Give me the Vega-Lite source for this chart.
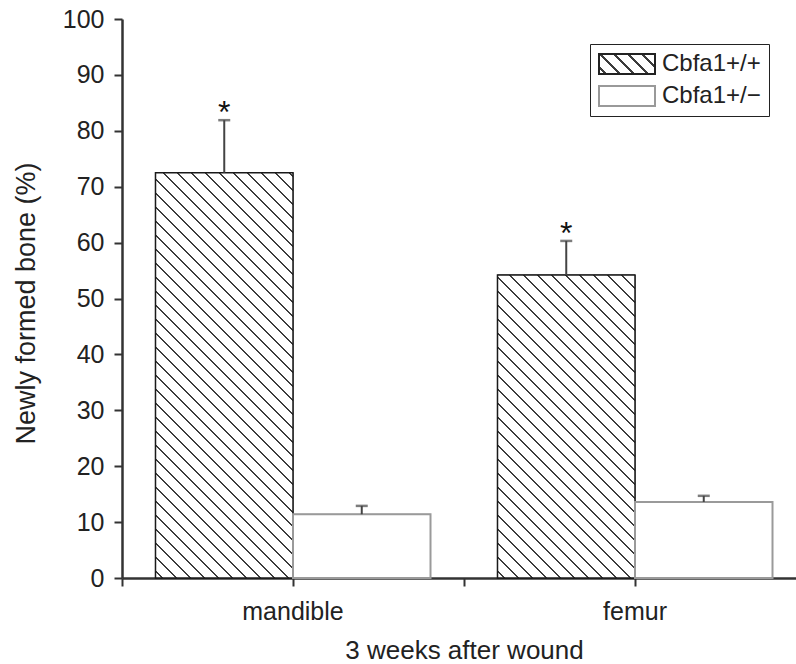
{
  "$schema": "https://vega.github.io/schema/vega-lite/v6.json",
  "autosize": {"type": "none"},
  "padding": {"left": 122, "top": 19, "right": 0, "bottom": 86},
  "width": 674,
  "height": 559,
  "config": {"view": {"stroke": null}, "font": "Liberation Sans"},
  "data": {"values": [
    {"site": "mandible", "genotype": "Cbfa1+/+", "value": 72.5, "upper": 81.9, "star": "*"},
    {"site": "mandible", "genotype": "Cbfa1+/−", "value": 11.4, "upper": 12.9, "star": ""},
    {"site": "femur", "genotype": "Cbfa1+/+", "value": 54.2, "upper": 60.3, "star": "*"},
    {"site": "femur", "genotype": "Cbfa1+/−", "value": 13.6, "upper": 14.7, "star": ""}
  ]},
  "resolve": {"axis": {"x": "independent"}},
  "layer": [
    {
      "mark": {"type": "bar"},
      "encoding": {
        "x": {"field": "site", "type": "nominal", "sort": ["mandible", "femur"],
          "scale": {"range": [0, 684], "paddingInner": 0, "paddingOuter": 0},
          "axis": {"orient": "bottom", "title": "3 weeks after wound", "titleFontSize": 26, "titleFontWeight": "normal", "titleColor": "#222", "titlePadding": 13,
            "labelFontSize": 25, "labelColor": "#222", "labelAngle": 0, "labelPadding": 13,
            "tickSize": 8, "tickWidth": 2, "tickColor": "#333", "domainColor": "#333", "domainWidth": 2.5}},
        "xOffset": {"field": "genotype", "type": "nominal", "sort": ["Cbfa1+/+", "Cbfa1+/−"], "scale": {"paddingInner": 0, "paddingOuter": 0.2436}},
        "y": {"field": "value", "type": "quantitative", "scale": {"domain": [0, 100], "nice": false},
          "axis": {"title": "Newly formed bone (%)", "titleFontSize": 27, "titleFontWeight": "normal", "titleColor": "#222", "titleX": -82, "titleY": 284,
            "values": [0,5,10,15,20,25,30,35,40,45,50,55,60,65,70,75,80,85,90,95,100],
            "labelExpr": "datum.value % 10 === 0 ? datum.label : ''",
            "labelFontSize": 25, "labelColor": "#222", "labelPadding": 10, "grid": false,
            "tickSize": 8, "tickWidth": 2, "tickColor": "#333", "domainColor": "#333", "domainWidth": 2.5}},
        "fill": {"field": "genotype", "type": "nominal", "sort": ["Cbfa1+/+", "Cbfa1+/−"], "scale": {"range": ["#ffffff", "#ffffff"]}, "legend": null},
        "stroke": {"field": "genotype", "type": "nominal", "sort": ["Cbfa1+/+", "Cbfa1+/−"], "scale": {"range": ["#222222", "#999999"]},
          "legend": {"title": null, "orient": "none", "legendX": 468, "legendY": 25,
            "strokeColor": "#222", "fillColor": "#fff", "padding": 8, "rowPadding": 8,
            "labelFontSize": 24, "labelColor": "#222", "labelOffset": 6, "clipHeight": 24,
            "symbolType": "M-1,-0.357L1,-0.357L1,0.357L-1,0.357Z", "symbolSize": 3136, "symbolStrokeWidth": 2,
            "symbolFillColor": {"expr": "datum.value === 'Cbfa1+/+' ? {gradient: 'linear', x1: 0, y1: 1, x2: 8.8688, y2: -2.1674, stops: [{offset: 0.010, color: '#fff'}, {offset: 0.010, color: '#3c3c3c'}, {offset: 0.015, color: '#3c3c3c'}, {offset: 0.015, color: '#fff'}, {offset: 0.035, color: '#fff'}, {offset: 0.035, color: '#3c3c3c'}, {offset: 0.040, color: '#3c3c3c'}, {offset: 0.040, color: '#fff'}, {offset: 0.060, color: '#fff'}, {offset: 0.060, color: '#3c3c3c'}, {offset: 0.065, color: '#3c3c3c'}, {offset: 0.065, color: '#fff'}, {offset: 0.085, color: '#fff'}, {offset: 0.085, color: '#3c3c3c'}, {offset: 0.090, color: '#3c3c3c'}, {offset: 0.090, color: '#fff'}, {offset: 0.110, color: '#fff'}, {offset: 0.110, color: '#3c3c3c'}, {offset: 0.115, color: '#3c3c3c'}, {offset: 0.115, color: '#fff'}, {offset: 0.135, color: '#fff'}, {offset: 0.135, color: '#3c3c3c'}, {offset: 0.140, color: '#3c3c3c'}, {offset: 0.140, color: '#fff'}]} : '#fff'"}
          }
        }
      }
    },
    {
      "mark": {"type": "bar"},
      "encoding": {
        "x": {"field": "site", "type": "nominal", "sort": ["mandible", "femur"],
          "axis": {"orient": "bottom", "tickBand": "extent", "labels": false, "domain": false, "title": null, "tickSize": 8, "tickWidth": 2, "tickColor": "#333", "grid": false}},
        "xOffset": {"field": "genotype", "type": "nominal", "sort": ["Cbfa1+/+", "Cbfa1+/−"]},
        "y": {"field": "value", "type": "quantitative"},
        "stroke": {"condition": {"test": "datum.genotype === 'Cbfa1+/+'", "value": "#1a1a1a"}, "value": "#9a9a9a"},
        "strokeWidth": {"condition": {"test": "datum.genotype === 'Cbfa1+/+'", "value": 1.5}, "value": 2},
        "fill": {"condition": [
          {"test": "datum.genotype === 'Cbfa1+/+' && datum.site === 'mandible'", "value": {"gradient": "linear", "x1": 0, "y1": 1, "x2": 0.42037, "y2": -0.23908, "stops": [
            {"offset":0.010,"color":"#fff"},{"offset":0.010,"color":"#3c3c3c"},{"offset":0.015,"color":"#3c3c3c"},{"offset":0.015,"color":"#fff"},
            {"offset":0.035,"color":"#fff"},{"offset":0.035,"color":"#3c3c3c"},{"offset":0.040,"color":"#3c3c3c"},{"offset":0.040,"color":"#fff"},
            {"offset":0.060,"color":"#fff"},{"offset":0.060,"color":"#3c3c3c"},{"offset":0.065,"color":"#3c3c3c"},{"offset":0.065,"color":"#fff"},
            {"offset":0.085,"color":"#fff"},{"offset":0.085,"color":"#3c3c3c"},{"offset":0.090,"color":"#3c3c3c"},{"offset":0.090,"color":"#fff"},
            {"offset":0.110,"color":"#fff"},{"offset":0.110,"color":"#3c3c3c"},{"offset":0.115,"color":"#3c3c3c"},{"offset":0.115,"color":"#fff"},
            {"offset":0.135,"color":"#fff"},{"offset":0.135,"color":"#3c3c3c"},{"offset":0.140,"color":"#3c3c3c"},{"offset":0.140,"color":"#fff"},
            {"offset":0.160,"color":"#fff"},{"offset":0.160,"color":"#3c3c3c"},{"offset":0.165,"color":"#3c3c3c"},{"offset":0.165,"color":"#fff"},
            {"offset":0.185,"color":"#fff"},{"offset":0.185,"color":"#3c3c3c"},{"offset":0.190,"color":"#3c3c3c"},{"offset":0.190,"color":"#fff"},
            {"offset":0.210,"color":"#fff"},{"offset":0.210,"color":"#3c3c3c"},{"offset":0.215,"color":"#3c3c3c"},{"offset":0.215,"color":"#fff"},
            {"offset":0.235,"color":"#fff"},{"offset":0.235,"color":"#3c3c3c"},{"offset":0.240,"color":"#3c3c3c"},{"offset":0.240,"color":"#fff"},
            {"offset":0.260,"color":"#fff"},{"offset":0.260,"color":"#3c3c3c"},{"offset":0.265,"color":"#3c3c3c"},{"offset":0.265,"color":"#fff"},
            {"offset":0.285,"color":"#fff"},{"offset":0.285,"color":"#3c3c3c"},{"offset":0.290,"color":"#3c3c3c"},{"offset":0.290,"color":"#fff"},
            {"offset":0.310,"color":"#fff"},{"offset":0.310,"color":"#3c3c3c"},{"offset":0.315,"color":"#3c3c3c"},{"offset":0.315,"color":"#fff"},
            {"offset":0.335,"color":"#fff"},{"offset":0.335,"color":"#3c3c3c"},{"offset":0.340,"color":"#3c3c3c"},{"offset":0.340,"color":"#fff"},
            {"offset":0.360,"color":"#fff"},{"offset":0.360,"color":"#3c3c3c"},{"offset":0.365,"color":"#3c3c3c"},{"offset":0.365,"color":"#fff"},
            {"offset":0.385,"color":"#fff"},{"offset":0.385,"color":"#3c3c3c"},{"offset":0.390,"color":"#3c3c3c"},{"offset":0.390,"color":"#fff"},
            {"offset":0.410,"color":"#fff"},{"offset":0.410,"color":"#3c3c3c"},{"offset":0.415,"color":"#3c3c3c"},{"offset":0.415,"color":"#fff"},
            {"offset":0.435,"color":"#fff"},{"offset":0.435,"color":"#3c3c3c"},{"offset":0.440,"color":"#3c3c3c"},{"offset":0.440,"color":"#fff"},
            {"offset":0.460,"color":"#fff"},{"offset":0.460,"color":"#3c3c3c"},{"offset":0.465,"color":"#3c3c3c"},{"offset":0.465,"color":"#fff"},
            {"offset":0.485,"color":"#fff"},{"offset":0.485,"color":"#3c3c3c"},{"offset":0.490,"color":"#3c3c3c"},{"offset":0.490,"color":"#fff"},
            {"offset":0.510,"color":"#fff"},{"offset":0.510,"color":"#3c3c3c"},{"offset":0.515,"color":"#3c3c3c"},{"offset":0.515,"color":"#fff"},
            {"offset":0.535,"color":"#fff"},{"offset":0.535,"color":"#3c3c3c"},{"offset":0.540,"color":"#3c3c3c"},{"offset":0.540,"color":"#fff"},
            {"offset":0.560,"color":"#fff"},{"offset":0.560,"color":"#3c3c3c"},{"offset":0.565,"color":"#3c3c3c"},{"offset":0.565,"color":"#fff"},
            {"offset":0.585,"color":"#fff"},{"offset":0.585,"color":"#3c3c3c"},{"offset":0.590,"color":"#3c3c3c"},{"offset":0.590,"color":"#fff"},
            {"offset":0.610,"color":"#fff"},{"offset":0.610,"color":"#3c3c3c"},{"offset":0.615,"color":"#3c3c3c"},{"offset":0.615,"color":"#fff"},
            {"offset":0.635,"color":"#fff"},{"offset":0.635,"color":"#3c3c3c"},{"offset":0.640,"color":"#3c3c3c"},{"offset":0.640,"color":"#fff"},
            {"offset":0.660,"color":"#fff"},{"offset":0.660,"color":"#3c3c3c"},{"offset":0.665,"color":"#3c3c3c"},{"offset":0.665,"color":"#fff"},
            {"offset":0.685,"color":"#fff"},{"offset":0.685,"color":"#3c3c3c"},{"offset":0.690,"color":"#3c3c3c"},{"offset":0.690,"color":"#fff"},
            {"offset":0.710,"color":"#fff"},{"offset":0.710,"color":"#3c3c3c"},{"offset":0.715,"color":"#3c3c3c"},{"offset":0.715,"color":"#fff"},
            {"offset":0.735,"color":"#fff"},{"offset":0.735,"color":"#3c3c3c"},{"offset":0.740,"color":"#3c3c3c"},{"offset":0.740,"color":"#fff"},
            {"offset":0.760,"color":"#fff"},{"offset":0.760,"color":"#3c3c3c"},{"offset":0.765,"color":"#3c3c3c"},{"offset":0.765,"color":"#fff"},
            {"offset":0.785,"color":"#fff"},{"offset":0.785,"color":"#3c3c3c"},{"offset":0.790,"color":"#3c3c3c"},{"offset":0.790,"color":"#fff"},
            {"offset":0.810,"color":"#fff"},{"offset":0.810,"color":"#3c3c3c"},{"offset":0.815,"color":"#3c3c3c"},{"offset":0.815,"color":"#fff"},
            {"offset":0.835,"color":"#fff"},{"offset":0.835,"color":"#3c3c3c"},{"offset":0.840,"color":"#3c3c3c"},{"offset":0.840,"color":"#fff"},
            {"offset":0.860,"color":"#fff"},{"offset":0.860,"color":"#3c3c3c"},{"offset":0.865,"color":"#3c3c3c"},{"offset":0.865,"color":"#fff"},
            {"offset":0.885,"color":"#fff"},{"offset":0.885,"color":"#3c3c3c"},{"offset":0.890,"color":"#3c3c3c"},{"offset":0.890,"color":"#fff"},
            {"offset":0.910,"color":"#fff"},{"offset":0.910,"color":"#3c3c3c"},{"offset":0.915,"color":"#3c3c3c"},{"offset":0.915,"color":"#fff"},
            {"offset":0.935,"color":"#fff"},{"offset":0.935,"color":"#3c3c3c"},{"offset":0.940,"color":"#3c3c3c"},{"offset":0.940,"color":"#fff"},
            {"offset":0.960,"color":"#fff"},{"offset":0.960,"color":"#3c3c3c"},{"offset":0.965,"color":"#3c3c3c"},{"offset":0.965,"color":"#fff"}
          ]}},
          {"test": "datum.genotype === 'Cbfa1+/+' && datum.site === 'femur'", "value": {"gradient": "linear", "x1": 0, "y1": 1, "x2": 0.69547, "y2": -0.53258, "stops": [
            {"offset":0.010,"color":"#fff"},{"offset":0.010,"color":"#3c3c3c"},{"offset":0.015,"color":"#3c3c3c"},{"offset":0.015,"color":"#fff"},
            {"offset":0.035,"color":"#fff"},{"offset":0.035,"color":"#3c3c3c"},{"offset":0.040,"color":"#3c3c3c"},{"offset":0.040,"color":"#fff"},
            {"offset":0.060,"color":"#fff"},{"offset":0.060,"color":"#3c3c3c"},{"offset":0.065,"color":"#3c3c3c"},{"offset":0.065,"color":"#fff"},
            {"offset":0.085,"color":"#fff"},{"offset":0.085,"color":"#3c3c3c"},{"offset":0.090,"color":"#3c3c3c"},{"offset":0.090,"color":"#fff"},
            {"offset":0.110,"color":"#fff"},{"offset":0.110,"color":"#3c3c3c"},{"offset":0.115,"color":"#3c3c3c"},{"offset":0.115,"color":"#fff"},
            {"offset":0.135,"color":"#fff"},{"offset":0.135,"color":"#3c3c3c"},{"offset":0.140,"color":"#3c3c3c"},{"offset":0.140,"color":"#fff"},
            {"offset":0.160,"color":"#fff"},{"offset":0.160,"color":"#3c3c3c"},{"offset":0.165,"color":"#3c3c3c"},{"offset":0.165,"color":"#fff"},
            {"offset":0.185,"color":"#fff"},{"offset":0.185,"color":"#3c3c3c"},{"offset":0.190,"color":"#3c3c3c"},{"offset":0.190,"color":"#fff"},
            {"offset":0.210,"color":"#fff"},{"offset":0.210,"color":"#3c3c3c"},{"offset":0.215,"color":"#3c3c3c"},{"offset":0.215,"color":"#fff"},
            {"offset":0.235,"color":"#fff"},{"offset":0.235,"color":"#3c3c3c"},{"offset":0.240,"color":"#3c3c3c"},{"offset":0.240,"color":"#fff"},
            {"offset":0.260,"color":"#fff"},{"offset":0.260,"color":"#3c3c3c"},{"offset":0.265,"color":"#3c3c3c"},{"offset":0.265,"color":"#fff"},
            {"offset":0.285,"color":"#fff"},{"offset":0.285,"color":"#3c3c3c"},{"offset":0.290,"color":"#3c3c3c"},{"offset":0.290,"color":"#fff"},
            {"offset":0.310,"color":"#fff"},{"offset":0.310,"color":"#3c3c3c"},{"offset":0.315,"color":"#3c3c3c"},{"offset":0.315,"color":"#fff"},
            {"offset":0.335,"color":"#fff"},{"offset":0.335,"color":"#3c3c3c"},{"offset":0.340,"color":"#3c3c3c"},{"offset":0.340,"color":"#fff"},
            {"offset":0.360,"color":"#fff"},{"offset":0.360,"color":"#3c3c3c"},{"offset":0.365,"color":"#3c3c3c"},{"offset":0.365,"color":"#fff"},
            {"offset":0.385,"color":"#fff"},{"offset":0.385,"color":"#3c3c3c"},{"offset":0.390,"color":"#3c3c3c"},{"offset":0.390,"color":"#fff"},
            {"offset":0.410,"color":"#fff"},{"offset":0.410,"color":"#3c3c3c"},{"offset":0.415,"color":"#3c3c3c"},{"offset":0.415,"color":"#fff"},
            {"offset":0.435,"color":"#fff"},{"offset":0.435,"color":"#3c3c3c"},{"offset":0.440,"color":"#3c3c3c"},{"offset":0.440,"color":"#fff"},
            {"offset":0.460,"color":"#fff"},{"offset":0.460,"color":"#3c3c3c"},{"offset":0.465,"color":"#3c3c3c"},{"offset":0.465,"color":"#fff"},
            {"offset":0.485,"color":"#fff"},{"offset":0.485,"color":"#3c3c3c"},{"offset":0.490,"color":"#3c3c3c"},{"offset":0.490,"color":"#fff"},
            {"offset":0.510,"color":"#fff"},{"offset":0.510,"color":"#3c3c3c"},{"offset":0.515,"color":"#3c3c3c"},{"offset":0.515,"color":"#fff"},
            {"offset":0.535,"color":"#fff"},{"offset":0.535,"color":"#3c3c3c"},{"offset":0.540,"color":"#3c3c3c"},{"offset":0.540,"color":"#fff"},
            {"offset":0.560,"color":"#fff"},{"offset":0.560,"color":"#3c3c3c"},{"offset":0.565,"color":"#3c3c3c"},{"offset":0.565,"color":"#fff"},
            {"offset":0.585,"color":"#fff"},{"offset":0.585,"color":"#3c3c3c"},{"offset":0.590,"color":"#3c3c3c"},{"offset":0.590,"color":"#fff"},
            {"offset":0.610,"color":"#fff"},{"offset":0.610,"color":"#3c3c3c"},{"offset":0.615,"color":"#3c3c3c"},{"offset":0.615,"color":"#fff"},
            {"offset":0.635,"color":"#fff"},{"offset":0.635,"color":"#3c3c3c"},{"offset":0.640,"color":"#3c3c3c"},{"offset":0.640,"color":"#fff"},
            {"offset":0.660,"color":"#fff"},{"offset":0.660,"color":"#3c3c3c"},{"offset":0.665,"color":"#3c3c3c"},{"offset":0.665,"color":"#fff"},
            {"offset":0.685,"color":"#fff"},{"offset":0.685,"color":"#3c3c3c"},{"offset":0.690,"color":"#3c3c3c"},{"offset":0.690,"color":"#fff"},
            {"offset":0.710,"color":"#fff"},{"offset":0.710,"color":"#3c3c3c"},{"offset":0.715,"color":"#3c3c3c"},{"offset":0.715,"color":"#fff"},
            {"offset":0.735,"color":"#fff"},{"offset":0.735,"color":"#3c3c3c"},{"offset":0.740,"color":"#3c3c3c"},{"offset":0.740,"color":"#fff"},
            {"offset":0.760,"color":"#fff"},{"offset":0.760,"color":"#3c3c3c"},{"offset":0.765,"color":"#3c3c3c"},{"offset":0.765,"color":"#fff"},
            {"offset":0.785,"color":"#fff"},{"offset":0.785,"color":"#3c3c3c"},{"offset":0.790,"color":"#3c3c3c"},{"offset":0.790,"color":"#fff"}
          ]}}
        ], "value": "#ffffff"}
      }
    },
    {
      "mark": {"type": "rule", "color": "#444", "strokeWidth": 2},
      "encoding": {
        "x": {"field": "site", "type": "nominal", "sort": ["mandible", "femur"], "axis": null},
        "xOffset": {"field": "genotype", "type": "nominal", "sort": ["Cbfa1+/+", "Cbfa1+/−"]},
        "y": {"field": "value", "type": "quantitative"},
        "y2": {"field": "upper"}
      }
    },
    {
      "mark": {"type": "tick", "color": "#444", "size": 12, "thickness": 2.5},
      "encoding": {
        "x": {"field": "site", "type": "nominal", "sort": ["mandible", "femur"], "axis": null},
        "xOffset": {"field": "genotype", "type": "nominal", "sort": ["Cbfa1+/+", "Cbfa1+/−"]},
        "y": {"field": "upper", "type": "quantitative"}
      }
    },
    {
      "mark": {"type": "text", "fontSize": 32, "color": "#111", "baseline": "alphabetic", "dy": 3},
      "encoding": {
        "x": {"field": "site", "type": "nominal", "sort": ["mandible", "femur"], "axis": null},
        "xOffset": {"field": "genotype", "type": "nominal", "sort": ["Cbfa1+/+", "Cbfa1+/−"]},
        "y": {"field": "upper", "type": "quantitative"},
        "text": {"field": "star"}
      }
    }
  ]
}
